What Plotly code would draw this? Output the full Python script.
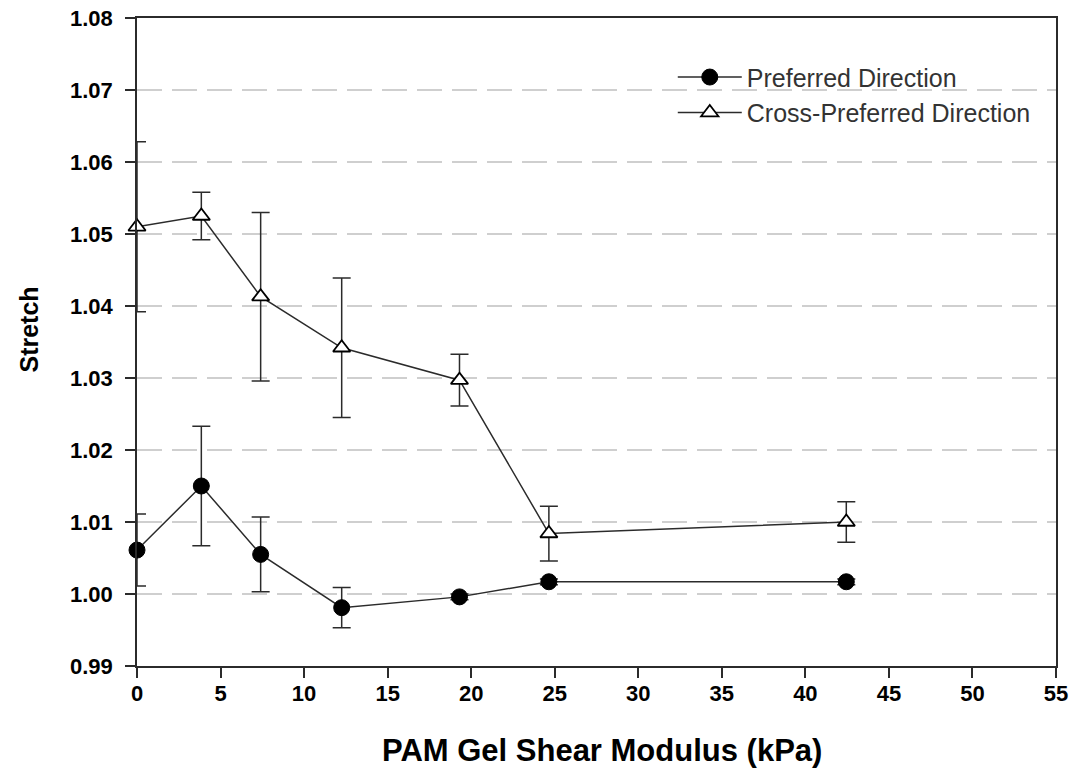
import plotly.graph_objects as go

# Shear modulus of the PAM gels (kPa)
modulus = [0, 3.85, 7.4, 12.25, 19.3, 24.65, 42.45]

# Stretch along the preferred direction, mean and error
pref_stretch = [1.0061, 1.0150, 1.0055, 0.9981, 0.9996, 1.0017, 1.0017]
pref_err = [0.0050, 0.0083, 0.0052, 0.0028, 0.0004, 0.0004, 0.0004]

# Stretch along the cross-preferred direction, mean and error
cross_stretch = [1.0510, 1.0525, 1.0413, 1.0342, 1.0297, 1.0084, 1.0100]
cross_err = [0.0118, 0.0033, 0.0117, 0.0097, 0.0036, 0.0038, 0.0028]

y_ticks = [0.99, 1.00, 1.01, 1.02, 1.03, 1.04, 1.05, 1.06, 1.07, 1.08]
x_ticks = [0, 5, 10, 15, 20, 25, 30, 35, 40, 45, 50, 55]

x_title = "PAM Gel Shear Modulus (kPa)"
y_title = "Stretch"

ink = "#2b2b2b"
font_family = "Liberation Sans, Arial, sans-serif"

fig = go.Figure()

fig.add_trace(go.Scatter(
    x=modulus, y=pref_stretch, name="Preferred Direction",
    mode="lines+markers",
    line=dict(color=ink, width=1.5),
    marker=dict(symbol="circle", size=16, color="black",
                line=dict(color="black", width=1)),
    error_y=dict(type="data", array=pref_err, visible=True,
                 color=ink, thickness=1.5, width=9),
    cliponaxis=False,
))

fig.add_trace(go.Scatter(
    x=modulus, y=cross_stretch, name="Cross-Preferred Direction",
    mode="lines+markers",
    line=dict(color=ink, width=1.5),
    marker=dict(symbol="triangle-up", size=15, color="white",
                line=dict(color="black", width=1.8)),
    error_y=dict(type="data", array=cross_err, visible=True,
                 color=ink, thickness=1.5, width=9),
    cliponaxis=False,
))

fig.update_layout(
    width=1086, height=782,
    margin=dict(l=137, r=30, t=18, b=116),
    paper_bgcolor="white", plot_bgcolor="white",
    font=dict(family=font_family, color="black"),
    showlegend=True,
    legend=dict(
        x=0.583, y=0.944, xanchor="left", yanchor="top",
        bgcolor="rgba(0,0,0,0)", borderwidth=0,
        font=dict(size=25, color="#333333", family=font_family),
        itemwidth=64, tracegroupgap=0,
    ),
    xaxis=dict(
        range=[0, 55], tickvals=x_ticks, automargin=False,
        ticks="outside", ticklen=10, tickwidth=1.5, tickcolor=ink,
        ticklabelstandoff=-3,
        showline=True, linecolor=ink, linewidth=1.5, mirror=True,
        showgrid=False, zeroline=False,
        tickfont=dict(size=22, family=font_family, color="black", weight="bold"),
    ),
    yaxis=dict(
        range=[0.99, 1.08], tickvals=y_ticks, tickformat=".2f", automargin=False,
        ticks="outside", ticklen=10, tickwidth=1.5, tickcolor=ink,
        ticklabelstandoff=8,
        showline=True, linecolor=ink, linewidth=1.5, mirror=True,
        showgrid=True, gridcolor="#cfcfcf", gridwidth=2, griddash="25px,10px",
        zeroline=False,
        tickfont=dict(size=22, family=font_family, color="black", weight="bold"),
    ),
    annotations=[
        dict(text=f"<b>{x_title}</b>", xref="paper", yref="paper",
             x=0.506, y=-0.130, xanchor="center", yanchor="middle",
             showarrow=False,
             font=dict(size=31, family=font_family, color="black")),
        dict(text=f"<b>{y_title}</b>", xref="paper", yref="paper",
             x=-0.117, y=0.52, xanchor="center", yanchor="middle",
             textangle=-90, showarrow=False,
             font=dict(size=25, family=font_family, color="black")),
    ],
)

fig.write_html("out.html")
